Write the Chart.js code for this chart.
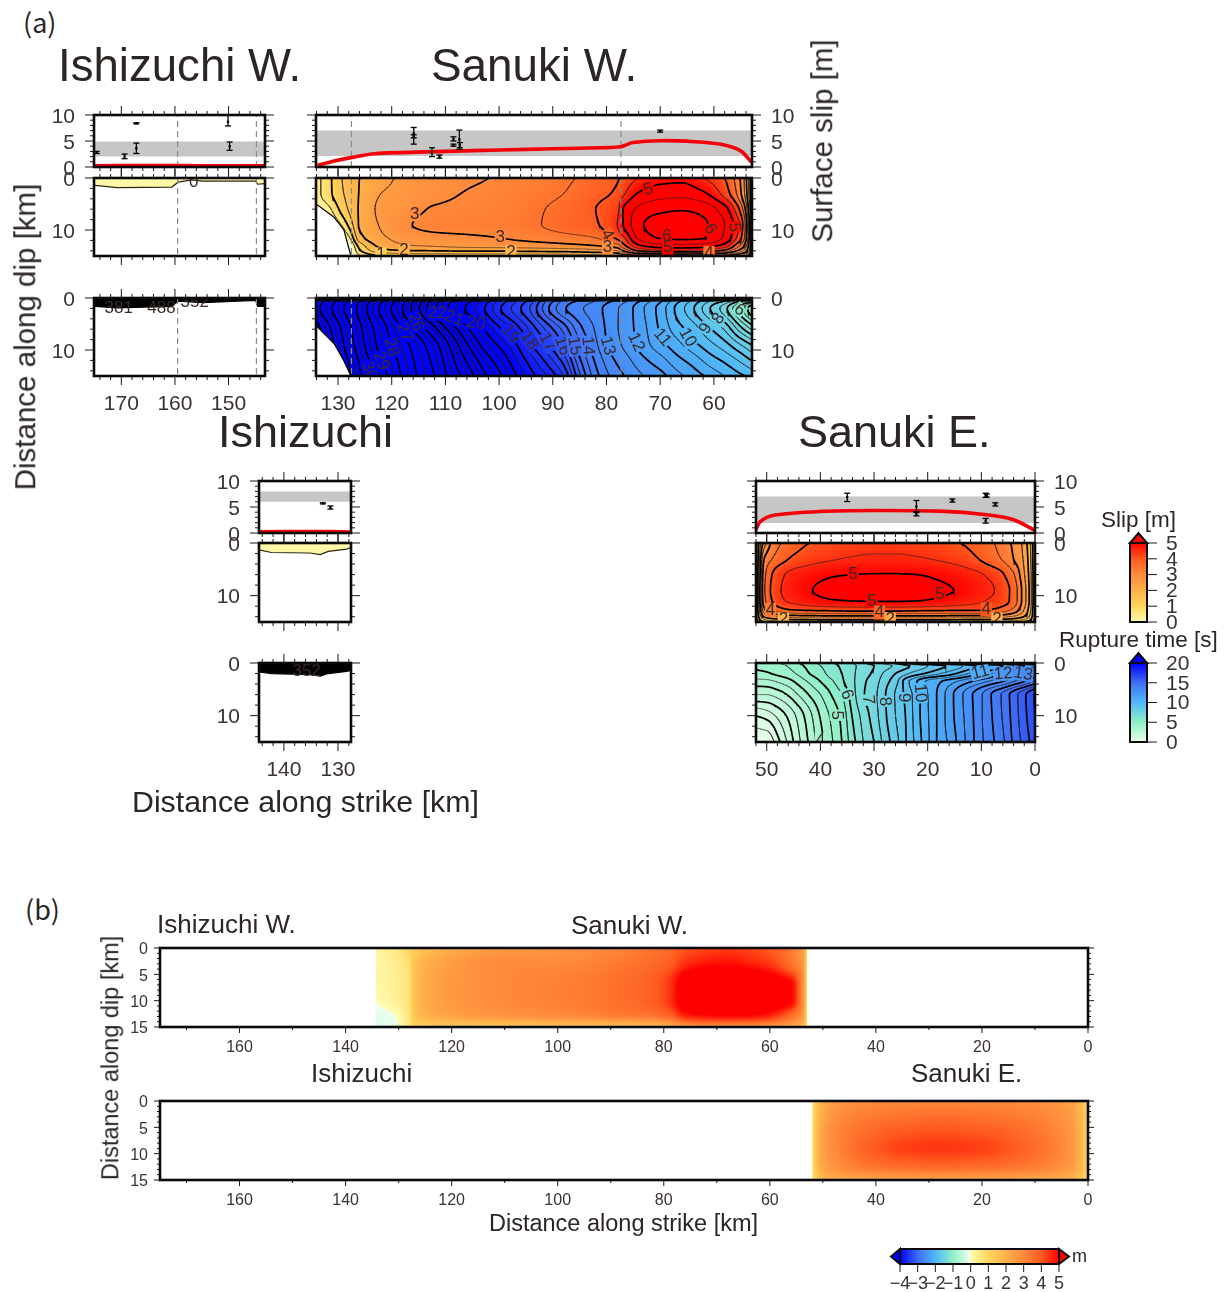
<!DOCTYPE html>
<html>
<head>
<meta charset="utf-8">
<title>Slip and rupture time</title>
<script src="https://cdn.jsdelivr.net/npm/chart.js@4"></script>
<style>
  html, body { margin: 0; background: #fff; }
  #page { position: relative; width: 1232px; height: 1292px; overflow: hidden; }
  canvas { position: absolute; }
  .t { position: absolute; white-space: nowrap; color: #2b2523; font-family: "Liberation Sans", sans-serif; line-height: 1; }
  .v { transform-origin: center; transform: translate(-50%, -50%) rotate(-90deg); }
  .m { transform: translate(-50%, -50%); }
</style>
</head>
<body>
<div id="page"></div>
<script>
// colour tables
const slipStops = [-4, -3, -2, -1, -0.03, 0, 1, 2, 3, 4, 5];
const slipColors = ['#0000ff', '#3c6cf8', '#50b8f8', '#90f0c8', '#eefff0', '#fffbb0', '#ffd65c', '#ffb04a', '#ff8a3c', '#ff5a1e', '#ff0000'];
const timeStops = [0, 5, 10, 15, 20];
const timeColors = ['#eaffe8', '#90f0c8', '#50b8f8', '#3f6ff5', '#0000ff'];

// tick labels
const ticksIshW = [170, 160, 150];
const ticksSanW = [130, 120, 110, 100, 90, 80, 70, 60];
const ticksIsh = [140, 130];
const ticksSanE = [50, 40, 30, 20, 10, 0];
const ticksSlip = [0, 5, 10];
const ticksDepth = [0, 10];
const ticksAll = [160, 140, 120, 100, 80, 60, 40, 20, 0];
const ticksDepthB = [0, 5, 10, 15];
const ticksSlipBar = [0, 1, 2, 3, 4, 5];
const ticksTimeBar = [0, 5, 10, 15, 20];
const ticksDiffBar = [-4, -3, -2, -1, 0, 1, 2, 3, 4, 5];

// Sanuki W. slip [m]
const slipWStrike = [134, 132, 130, 128, 126, 122, 118, 112, 106, 100, 94, 88, 82, 78, 76.9, 74, 70, 66, 62, 58, 56, 54.5, 53.5, 52.8];
const slipWDepth = [0, 3, 6, 9, 11.5, 13, 14, 15];
const slipW = [
  [.3, .8, 1.3, 1.8, 2, 2.3, 2.6, 2.8, 2.9, 3.05, 3.2, 3.4, 3.7, 3.95, 4.1, 4.5, 4.8, 4.85, 4.5, 4, 3.4, 2.6, 1.4, .2],
  [.3, .8, 1.25, 1.7, 2.02, 2.5, 2.65, 2.85, 3.03, 3.15, 3.3, 3.5, 3.85, 4.1, 4.4, 5.05, 5.3, 5.35, 5.1, 4.3, 3.6, 2.7, 1.5, .2],
  [0, .3, .95, 1.55, 2.05, 2.6, 2.75, 3.05, 3.12, 3.2, 3.4, 3.65, 4, 4.35, 5, 5.6, 5.85, 5.95, 5.8, 5.2, 4.4, 3.4, 1.9, .2],
  [-.3, -.2, .3, 1.1, 2.05, 2.55, 2.9, 3.15, 3.2, 3.25, 3.42, 3.7, 3.95, 4.5, 5, 5.85, 6.3, 6.4, 6.1, 5.5, 4.85, 3.9, 2.3, .2],
  [-.6, -.6, -.4, .4, 1.8, 2.4, 2.65, 2.82, 2.9, 3, 3.15, 3.3, 3.5, 4.1, 4.4, 5.6, 6.03, 6.1, 6.02, 5.4, 4.6, 3.7, 2.2, .2],
  [-.8, -.8, -.7, -.2, 1.2, 2.15, 2.45, 2.55, 2.65, 2.7, 2.75, 2.85, 3, 3.3, 3.8, 4.9, 5.3, 5.35, 5.25, 4.8, 3.9, 3.1, 1.9, .2],
  [-.9, -.9, -.8, -.4, .9, 1.8, 1.95, 2, 2.05, 2.05, 2.1, 2.15, 2.3, 2.5, 3, 4, 4.3, 4.4, 4.3, 3.8, 3.1, 2.5, 1.6, .2],
  [-1, -1, -.9, -.5, .4, .9, 1, 1.05, 1.05, 1.05, 1.1, 1.1, 1.2, 1.3, 1.5, 1.8, 2, 2, 2, 1.8, 1.5, 1.2, .8, .1]
];
const slipWMask = [[134.2, 5.2], [133.8, 5.2], [130.8, 7.5], [128.9, 10], [127.6, 15], [127.4, 15]];
const slipWLabels = [['3', 115.7, 7, 0], ['3', 99.8, 11.5, 0], ['2', 117.7, 14, 0], ['2', 97.8, 14.2, 0], ['1', 122, 14.7, 0],
  ['5', 72.2, 2.2, -15], ['6', 68.8, 11.3, 0], ['6', 60.7, 9.8, 60], ['5', 56.2, 9.5, 85], ['5', 68.6, 13.4, 0],
  ['4', 79.9, 10.9, 60], ['3', 79.8, 13.4, 0], ['4', 60.9, 14.4, 0]];

// Sanuki W. rupture time [s]
const timeWStrike = [134, 130, 127, 124, 121, 118, 115, 112, 109, 106, 103, 100, 97, 94, 91, 88, 85, 82, 79, 76, 73, 70, 67, 64, 61, 58, 55, 53];
const timeWDepth = [0, .6, 2, 5.5, 9, 12, 15];
const timeW = [
  [40, 39, 38, 37, 36, 35, 34, 33, 32, 31, 30, 29, 28, 27, 26, 25, 24, 24, 23, 23, 22, 22, 21, 21, 20, 18, 14, 10],
  [33.6, 31.8, 30.5, 29, 27.7, 26.3, 24.4, 22.4, 21.1, 20.2, 19.4, 18.4, 17.6, 16.7, 15.4, 14.4, 13.9, 13.5, 13, 12.5, 11.8, 11.1, 10.2, 9.4, 8.6, 8, 7, 6.5],
  [33.3, 31.5, 30.2, 28.7, 27.4, 26, 24.1, 22.1, 20.8, 19.9, 19.1, 18.1, 17.3, 16.4, 15.1, 14.1, 13.6, 13.2, 12.7, 12.2, 11.5, 10.8, 9.9, 9.1, 8.1, 7.2, 5.7, 4.6],
  [34.3, 32.2, 30.7, 29.2, 28, 26.8, 25.4, 24, 22.4, 21, 19.95, 19, 18.2, 17.2, 16.2, 15.2, 14.1, 13.4, 12.7, 12.2, 11.6, 10.9, 10.2, 9.7, 9, 8.3, 7, 6.2],
  [35, 32.6, 31, 29.5, 28.3, 27.4, 26.4, 25.3, 23.8, 22.1, 20.8, 19.9, 19.1, 18, 17.1, 16, 14.6, 13.6, 12.8, 12.3, 11.7, 11.2, 10.7, 10.2, 9.7, 9.2, 8.5, 8],
  [35.2, 33, 31.4, 29.9, 28.7, 27.7, 26.7, 25.7, 24.3, 22.9, 21.6, 20.6, 19.6, 18.7, 17.8, 16.8, 15.1, 13.9, 13.1, 12.6, 12.1, 11.7, 11.2, 10.8, 10.3, 9.9, 9.4, 9],
  [35.4, 33.3, 31.7, 30.2, 29.1, 27.9, 26.9, 26, 24.7, 23.6, 22.3, 21.2, 20.1, 19.2, 18.5, 17.5, 15.6, 14.2, 13.4, 12.9, 12.5, 12.2, 11.7, 11.3, 10.9, 10.5, 10.1, 9.9]
];
const timeWMask = [[134.2, 5.6], [133.8, 5.6], [130.7, 8.8], [128.9, 12.1], [127.6, 15], [127.4, 15]];
const timeWLabels = [['30', 124.2, 14, 70], ['29', 122, 12.1, 70], ['28', 120.1, 9.5, 75], ['27', 117.7, 6.6, 70], ['26', 115.5, 4.6, 70],
  ['22', 111.5, 3, 0], ['21', 108.4, 3.9, 20], ['20', 104.3, 4.9, 10], ['19', 97.8, 6.9, 50], ['18', 94.4, 8.2, 55], ['17', 91, 8.5, 60],
  ['16', 88.2, 9.2, 70], ['15', 86, 9.2, 80], ['14', 83.5, 9.2, 85], ['13', 79.8, 9.2, 75], ['12', 74.5, 8.5, 65], ['11', 69.6, 7.6, 50],
  ['10', 64.9, 7.6, 60], ['9', 61.5, 5.9, -60], ['8', 59.1, 4, -55], ['6', 55.2, 2.3, 40]];

// Sanuki E. slip [m]
const slipEStrike = [52, 51.5, 50.5, 49, 47, 45, 42, 38, 34, 30, 26, 22, 18, 14, 11, 8, 6, 4, 2.5, 1.2, .3, 0];
const slipEDepth = [0, 3, 6, 9, 11, 12.8, 14, 15];
const slipE = [
  [.2, 1, 2.2, 3.1, 3.55, 3.75, 4, 4.15, 4.25, 4.3, 4.3, 4.25, 4.15, 4, 3.8, 3.55, 3.25, 2.9, 2.5, 1.8, .8, .2],
  [.2, 1.2, 3, 3.5, 3.85, 4.1, 4.3, 4.45, 4.55, 4.6, 4.6, 4.55, 4.45, 4.3, 4.05, 3.7, 3.45, 3, 2.6, 1.9, .8, .2],
  [.2, 1.4, 3.3, 4, 4.45, 4.65, 4.8, 4.95, 5, 5.02, 5.02, 5, 4.9, 4.75, 4.6, 4.35, 4.05, 3.55, 2.8, 2, .9, .2],
  [.2, 1.5, 3.4, 4.1, 4.55, 4.75, 4.97, 5.15, 5.25, 5.3, 5.3, 5.25, 5.1, 4.95, 4.75, 4.55, 4.25, 3.8, 3, 2.1, .9, .2],
  [.2, 1.5, 3.3, 4, 4.45, 4.6, 4.8, 4.95, 5, 5.02, 5.02, 5, 4.9, 4.75, 4.6, 4.4, 4.2, 3.8, 3, 2.1, .9, .2],
  [.2, 1.3, 2.8, 3.4, 3.8, 3.95, 4, 4.05, 4.1, 4.1, 4.1, 4.05, 4.02, 4, 4, 3.9, 3.7, 3.3, 2.7, 1.9, .8, .2],
  [.2, 1, 2, 2.4, 2.6, 2.7, 2.75, 2.8, 2.8, 2.8, 2.8, 2.8, 2.8, 2.75, 2.75, 2.7, 2.6, 2.4, 2.1, 1.6, .7, .2],
  [.1, .6, 1, 1.2, 1.3, 1.35, 1.4, 1.4, 1.4, 1.4, 1.4, 1.4, 1.4, 1.4, 1.35, 1.3, 1.25, 1.2, 1, .8, .4, .1]
];
const slipELabels = [['5', 33.9, 6, 0], ['5', 30.4, 11, 0], ['5', 17.7, 9.7, 0], ['4', 49.3, 12.7, 0], ['4', 29, 13.2, 0], ['4', 9.1, 12.6, 0],
  ['2', 46.9, 14.5, 0], ['2', 27, 14.5, 0], ['2', 7.1, 14.5, 0]];

// Sanuki E. rupture time [s]
const timeEStrike = [52, 50, 48, 46, 44, 42, 40, 38, 36, 34, 32, 30, 28, 26, 24, 22, 20, 18, 16, 14, 12, 10, 8, 6, 4, 2, 0];
const timeEDepth = [0, .5, 2, 3.5, 6, 10, 15];
const timeE = [
  [4.3, 4.35, 4.5, 4.7, 5, 5.3, 5.6, 5.9, 6.2, 6.5, 6.9, 7.3, 7.7, 8.1, 8.9, 10, 10.4, 10.8, 11.2, 11.6, 12, 12.4, 12.8, 13.2, 13.6, 14, 14.5],
  [4.1, 4.15, 4.3, 4.55, 4.85, 5.2, 5.5, 5.8, 6.1, 6.4, 6.7, 7, 7.3, 7.6, 7.9, 8.2, 8.5, 8.8, 9.1, 9.4, 9.8, 10.2, 10.6, 11, 11.5, 12, 12.5],
  [3.9, 3.95, 4.1, 4.3, 4.6, 5, 5.3, 5.7, 6, 6.4, 6.8, 7.1, 7.6, 8, 8.4, 8.8, 9.1, 9.45, 9.75, 10.15, 10.6, 11.05, 11.5, 12, 12.5, 13, 13.5],
  [3.3, 3.35, 3.55, 3.8, 4.2, 4.6, 5, 5.4, 5.9, 6.4, 6.9, 7.25, 7.8, 8.3, 9.3, 10, 10.6, 10.9, 11.25, 11.6, 11.95, 12.3, 12.65, 13, 13.5, 14, 14.6],
  [2.5, 2.5, 2.7, 3.05, 3.55, 4.05, 4.5, 5, 5.5, 6.3, 6.95, 7.35, 7.95, 8.55, 9.15, 9.8, 10.5, 11.1, 11.75, 12.35, 12.9, 13.45, 14.05, 14.6, 15.25, 15.9, 16.6],
  [1, 1.2, 1.6, 2.1, 2.7, 3.35, 4.05, 4.6, 5.15, 6.05, 6.7, 7.25, 7.9, 8.5, 9.05, 9.8, 10.45, 11.1, 11.75, 12.3, 12.85, 13.45, 14, 14.55, 15.2, 15.85, 16.5],
  [0, 0, .8, 1.6, 2.4, 3.1, 3.8, 4.4, 5, 5.8, 6.5, 7, 7.7, 8.3, 9, 9.7, 10.4, 11.1, 11.6, 12.2, 12.8, 13.4, 13.9, 14.4, 15.1, 15.7, 16.3]
];
const timeELabels = [['5', 37, 9.9, 90], ['6', 35.1, 6, 70], ['7', 31.1, 7, 85], ['8', 28, 7.3, 85], ['9', 24.5, 6.6, 90], ['10', 21.4, 5.7, 85],
  ['11', 10.2, 1.8, -15], ['12', 5.9, 2.1, -5], ['13', 2.2, 2.1, 10], ['4', 40, 14.6, 0]];

// panel (b) slip [m]
const bWStrike = [134.2, 131, 128, 127.4, 125, 120, 110, 100, 90, 82, 79, 76, 72, 68, 64, 60, 56, 54, 53.2, 53];
const bWDepth = [0, 3, 7, 10, 12.5, 14.5, 15];
const bW = [
  [.2, .4, 1, 1.05, 1.5, 2, 2.5, 2.7, 3, 3.4, 3.6, 4, 4.2, 4.3, 4.2, 3.9, 3.3, 2.5, 1.5, .5],
  [.15, .35, .8, 1.3, 2, 2.5, 3, 3, 3.3, 3.7, 3.9, 4.5, 4.8, 4.9, 4.7, 4.4, 3.5, 2.8, 1.6, .5],
  [.1, .3, .7, 1.3, 2.1, 2.6, 3, 3.2, 3.5, 3.9, 4.4, 5.5, 6.2, 6.3, 6, 5.5, 5, 3.2, 1.6, .5],
  [0, .25, .7, 1.3, 2.1, 2.6, 3, 3.2, 3.5, 3.9, 4.4, 5.5, 6.3, 6.4, 6, 5.5, 5, 3.2, 1.6, .5],
  [-.12, -.02, .65, 1.2, 2, 2.4, 2.8, 3, 3.3, 3.6, 3.9, 4.8, 5.1, 5.2, 5.1, 4.8, 3.8, 2.8, 1.5, .5],
  [-.18, -.1, .6, 1, 1.3, 1.5, 1.6, 1.7, 1.8, 2, 2.3, 3, 3.3, 3.3, 3.3, 3, 2.5, 2, 1.2, .5],
  [-.18, -.1, .6, .8, 1, 1, 1, 1.1, 1.1, 1.2, 1.3, 1.6, 1.8, 1.8, 1.8, 1.6, 1.4, 1.1, .8, .4]
];
const bEStrike = [52.1, 51.5, 50, 47, 42, 35, 28, 20, 12, 6, 3, 1.5, .5, 0];
const bEDepth = [0, 3, 6, 9, 11, 13, 15];
const bE = [
  [.3, 1, 2, 2.6, 2.9, 3, 3, 3, 2.9, 2.6, 2.3, 1.8, 1.2, .8],
  [.3, 1.2, 2.2, 2.9, 3.3, 3.5, 3.6, 3.5, 3.3, 2.9, 2.5, 1.9, 1.3, .8],
  [.3, 1.3, 2.4, 3.1, 3.6, 4, 4.1, 4, 3.6, 3.1, 2.6, 2, 1.3, .8],
  [.3, 1.3, 2.4, 3.1, 3.8, 4.3, 4.4, 4.3, 3.8, 3.2, 2.6, 2, 1.3, .8],
  [.3, 1.3, 2.4, 3, 3.6, 4, 4.1, 4, 3.6, 3.1, 2.6, 2, 1.3, .8],
  [.3, 1.2, 2.2, 2.8, 3.2, 3.4, 3.5, 3.4, 3.2, 2.8, 2.4, 1.9, 1.2, .8],
  [.3, 1, 1.6, 1.9, 2.1, 2.2, 2.2, 2.2, 2.1, 1.9, 1.7, 1.4, 1, .7]
];

// shallow slip and rupture patches of the two Ishizuchi segments
const edgeIshW = [[175.1, 1.4], [174.9, 1.4], [170.8, 1.85], [160.6, 1.75], [159.4, .8], [156.9, .35], [154.8, .6], [144.9, .6], [144.6, 1.2], [143.2, 1.1]];
const bandIshW = [[175.1, 1.6], [174.9, 1.6], [170.8, 1.9], [160.6, 1.6], [159.4, .6], [154.8, .9], [144.9, .45], [144.6, 1.6], [143.2, 1.6]];
const edgeIsh = [[144.6, 1.3], [142.3, 1.8], [135.2, 1.9], [133.3, 2.2], [131.8, 1.6], [128.4, 1.15], [127.6, .85]];
const bandIsh = [[144.6, 1.7], [142.3, 2], [135.2, 2.2], [133.3, 2.5], [131.8, 2], [128.4, 1.6], [127.6, 1.4]];

// surface slip: [strike, value, low, high]
const obsIshW = [[174.6, 2.8, 2.6, 3], [169.4, 2, 1.6, 2.5], [167.2, 8.4, 8.3, 8.5], [167.2, 3.6, 2.6, 4.6], [150.1, 8.7, 7.9, 10], [149.8, 4, 3.2, 4.8]];
const obsSanW = [[115.9, 6.5, 4.4, 7.6], [115.9, 5.9, 5.6, 6.2], [112.5, 2.75, 2, 3.7], [111.1, 2, 1.7, 2.3], [108.5, 5.4, 5, 5.8], [108.5, 4.2, 4, 4.4], [107.4, 5.3, 3.4, 7.1], [107.3, 4.2, 3.7, 4.7], [70, 6.9, 6.7, 7.1]];
const obsIsh = [[132.8, 5.7, 5.6, 5.8], [131.4, 4.9, 4.6, 5.2]];
const obsSanE = [[35, 6.9, 6.05, 7.65], [22.1, 5.1, 3.95, 6.25], [22.1, 3.7, 3.3, 4.1], [15.4, 6.25, 5.95, 6.55], [9.2, 7.25, 6.85, 7.65], [9, 7.2, 6.9, 7.5], [7.4, 5.5, 5.2, 5.8], [9.2, 2.35, 1.9, 2.8]];

// modelled surface slip (red line): [strike, slip]
const redIshW = [[175.1, .25], [165, .3], [155, .25], [143.2, .25]];
const redSanW = [[133.8, .3], [130.7, 1.15], [127.6, 1.8], [123.2, 2.56], [110, 3], [99.7, 3.27], [90, 3.5], [81, 3.7], [77.3, 3.9], [75.1, 4.7], [69.8, 5.06], [63.6, 4.87], [58.7, 4.36], [55, 3.1], [52.9, .8]];
const redIsh = [[144.6, .25], [135, .3], [127.6, .2]];
const redSanE = [[52, .65], [51.2, 2.2], [48.7, 3.4], [40, 4.15], [30.1, 4.33], [17.7, 4.2], [9, 3.5], [4, 2.55], [0, .5]];

// segment boundaries (dashed)
const faultsIshW = [159.5, 144.8];
const faultsSanW = [127.5, 77.3];

// ---------- helpers ----------
const FONT = '"Liberation Sans", sans-serif';
const TICKCOL = '#3a3331';
const page = document.getElementById('page');

function text(str, x, y, size, cls, family) {
  const d = document.createElement('div');
  d.className = 't ' + (cls || '');
  d.textContent = str;
  d.style.left = x + 'px';
  d.style.top = y + 'px';
  d.style.fontSize = size + 'px';
  if (!cls) d.style.transform = 'translateY(-50%)';
  if (family) d.style.fontFamily = family;
  page.appendChild(d);
}

function hexRgb(h) { return [1, 3, 5].map(i => parseInt(h.substr(i, 2), 16)); }
function colormap(stops, colors) {
  const rgb = colors.map(hexRgb);
  return v => {
    if (v <= stops[0]) return rgb[0];
    for (let i = 0; i < stops.length - 1; i++) {
      if (v <= stops[i + 1]) {
        const t = (v - stops[i]) / (stops[i + 1] - stops[i]);
        return rgb[i].map((c, k) => c + (rgb[i + 1][k] - c) * t);
      }
    }
    return rgb[rgb.length - 1];
  };
}
const slipMap = colormap(slipStops, slipColors);
const timeMap = colormap(timeStops, timeColors);

function seg(xs, x) {
  for (let i = 0; i < xs.length - 1; i++) {
    if ((x - xs[i]) * (x - xs[i + 1]) <= 0) return i;
  }
  return -1;
}
// monotone cubic between table nodes
function interp(xs, vs, i, x) {
  const h = xs[i + 1] - xs[i], d = (vs[i + 1] - vs[i]) / h, t = (x - xs[i]) / h;
  const slope = k => {
    if (k <= 0 || k >= xs.length - 1) return d;
    const a = (vs[k] - vs[k - 1]) / (xs[k] - xs[k - 1]), b = (vs[k + 1] - vs[k]) / (xs[k + 1] - xs[k]);
    return a * b <= 0 ? 0 : 2 * a * b / (a + b);
  };
  const m0 = slope(i) * h, m1 = slope(i + 1) * h, t2 = t * t, t3 = t2 * t;
  return (2 * t3 - 3 * t2 + 1) * vs[i] + (t3 - 2 * t2 + t) * m0 + (-2 * t3 + 3 * t2) * vs[i + 1] + (t3 - t2) * m1;
}
function sample(f, x, y) {
  const i = seg(f.xs, x), j = seg(f.ys, y);
  if (i < 0 || j < 0) return NaN;
  return interp(f.ys, f.m.map(r => interp(f.xs, r, i, x)), j, y);
}

// contour lines as chart datasets, gaps are NaN points
function contours(f, levels, nx, ny) {
  const x0 = f.xs[0], x1 = f.xs[f.xs.length - 1], y0 = f.ys[0], y1 = f.ys[f.ys.length - 1];
  const gx = [], gy = [], grid = [];
  for (let i = 0; i <= nx; i++) gx.push(x0 + (x1 - x0) * i / nx);
  for (let j = 0; j <= ny; j++) gy.push(y0 + (y1 - y0) * j / ny);
  gy.forEach(y => grid.push(gx.map(x => sample(f, x, y))));
  return levels.map(lv => {
    const data = [];
    for (let j = 0; j < ny; j++) for (let i = 0; i < nx; i++) {
      const a = grid[j][i], b = grid[j][i + 1], c = grid[j + 1][i + 1], d = grid[j + 1][i];
      const pts = [];
      if ((a - lv) * (b - lv) < 0) pts.push({ x: gx[i] + (gx[i + 1] - gx[i]) * (lv - a) / (b - a), y: gy[j] });
      if ((b - lv) * (c - lv) < 0) pts.push({ x: gx[i + 1], y: gy[j] + (gy[j + 1] - gy[j]) * (lv - b) / (c - b) });
      if ((d - lv) * (c - lv) < 0) pts.push({ x: gx[i] + (gx[i + 1] - gx[i]) * (lv - d) / (c - d), y: gy[j + 1] });
      if ((a - lv) * (d - lv) < 0) pts.push({ x: gx[i], y: gy[j] + (gy[j + 1] - gy[j]) * (lv - a) / (d - a) });
      for (let k = 0; k + 1 < pts.length; k += 2) data.push(pts[k], pts[k + 1], { x: NaN, y: NaN });
    }
    const major = Number.isInteger(lv);
    return { type: 'line', data, order: 5, pointRadius: 0, borderCapStyle: 'round', spanGaps: false,
      borderColor: major ? '#000' : 'rgba(40,30,30,.55)', borderWidth: major ? 1.7 : .8 };
  });
}

function levels(a, b) {
  const out = [];
  for (let v = a; v <= b; v += .5) out.push(v);
  return out;
}
const pairs = a => a.map(p => ({ x: p[0], y: p[1] }));

const polyFill = (pts, color, edge, value, order) => ({ type: 'line', data: pairs(pts), order, pointRadius: 0, backgroundColor: color,
  borderColor: edge, borderWidth: 1.2, fill: { value } });
const faultLines = (list, y0, y1) => list.map(s => ({ type: 'line', data: [{ x: s, y: y0 }, { x: s, y: y1 }], order: 2, pointRadius: 0,
  borderColor: '#8a8a8a', borderWidth: 1.2, borderDash: [6, 4] }));

function slipSets(obs, red, lo, hi, range, faults) {
  const bars = [], caps = [];
  obs.forEach(o => {
    bars.push({ x: o[0], y: o[2] }, { x: o[0], y: o[3] }, { x: NaN, y: NaN });
    caps.push({ x: o[0], y: o[2] }, { x: o[0], y: o[3] });
  });
  return [
    { type: 'line', data: [{ x: range[0], y: hi }, { x: range[1], y: hi }], order: 9, pointRadius: 0, borderWidth: 0, backgroundColor: '#c6c6c6', fill: { value: lo } },
    ...faultLines(faults, 0, 10),
    { type: 'line', data: pairs(red), order: 1, pointRadius: 0, borderColor: '#f5000a', borderWidth: 3.6, tension: .3, clip: false },
    { type: 'line', data: bars, order: 0, pointRadius: 0, borderColor: '#000', borderWidth: 1.3, spanGaps: false },
    { type: 'scatter', data: caps, order: 0, pointStyle: 'line', pointRadius: 3, borderColor: '#000', borderWidth: 1.3 },
    { type: 'scatter', data: pairs(obs), order: 0, pointStyle: 'rect', pointRadius: 1.6, backgroundColor: '#000', borderColor: '#000', borderWidth: 0 }
  ];
}

// heat field, contour labels, frame and tick marks, all from the chart's scales
function panelPlugin(c) {
  return {
    id: 'panel',
    beforeDraw(chart) {
      // digits of the y axis sit a little low in the original
      const dy = c.yShift === undefined ? 2 : c.yShift;
      chart.scales.y.getLabelItems().forEach(it => {
        if (!it.shifted) { it.options.translation[1] += dy; it.shifted = true; }
      });
    },
    beforeDatasetsDraw(chart) {
      if (!c.heat) return;
      const { left, top, width, height } = chart.chartArea;
      const w = Math.round(width), h = Math.round(height);
      const img = chart.ctx.createImageData(w, h), sx = chart.scales.x, sy = chart.scales.y;
      for (let py = 0; py < h; py++) {
        const y = sy.getValueForPixel(top + py + .5);
        for (let px = 0; px < w; px++) {
          const v = sample(c.heat, sx.getValueForPixel(left + px + .5), y);
          if (isNaN(v)) continue;
          const col = c.map(v), k = (py * w + px) * 4;
          img.data[k] = col[0]; img.data[k + 1] = col[1]; img.data[k + 2] = col[2]; img.data[k + 3] = 255;
        }
      }
      chart.ctx.putImageData(img, Math.round(left), Math.round(top));
    },
    afterDatasetsDraw(chart) {
      if (!c.labels) return;
      const ctx = chart.ctx, a = chart.chartArea;
      ctx.save();
      ctx.beginPath();
      ctx.rect(a.left, a.top, a.right - a.left, a.bottom - a.top);
      ctx.clip();
      ctx.font = (c.labelSize || 17) + 'px ' + FONT;
      ctx.textAlign = 'center';
      ctx.textBaseline = 'middle';
      c.labels.forEach(l => {
        ctx.save();
        ctx.translate(chart.scales.x.getPixelForValue(l[1]), chart.scales.y.getPixelForValue(l[2]));
        ctx.rotate((l[3] || 0) * Math.PI / 180);
        if (c.heat) {
          const v = sample(c.heat, l[1], l[2]);
          if (!isNaN(v)) {
            const col = c.map(v);
            ctx.fillStyle = `rgb(${col[0]},${col[1]},${col[2]})`;
            const tw = ctx.measureText(l[0]).width;
            ctx.fillRect(-tw / 2 - 1, -7, tw + 2, 14);
          }
        }
        ctx.fillStyle = '#3a2a28';
        ctx.fillText(l[0], 0, 0);
        ctx.restore();
      });
      ctx.restore();
    },
    afterDraw(chart) {
      const ctx = chart.ctx, a = chart.chartArea, sx = chart.scales.x, sy = chart.scales.y;
      const sides = c.sides || 'tblr', L = c.tickLen || [9, 4];
      ctx.save();
      ctx.strokeStyle = '#1c1716';
      ctx.lineWidth = 1;
      const mark = (x0, y0, x1, y1) => { ctx.beginPath(); ctx.moveTo(x0, y0); ctx.lineTo(x1, y1); ctx.stroke(); };
      const run = (s, step, major, fn) => {
        const lo = Math.min(s.min, s.max), hi = Math.max(s.min, s.max);
        for (let v = Math.ceil(lo / step - 1e-6) * step; v <= hi + 1e-6; v += step) {
          const isMajor = Math.abs(v / major - Math.round(v / major)) < 1e-6;
          fn(s.getPixelForValue(v), isMajor ? L[0] : L[1]);
        }
      };
      if (c.xStep) run(sx, c.xStep, c.xMajor, (p, n) => {
        if (sides.includes('t')) mark(p, a.top, p, a.top - n);
        if (sides.includes('b')) mark(p, a.bottom, p, a.bottom + n);
      });
      if (c.yStep) run(sy, c.yStep, c.yMajor, (p, n) => {
        if (sides.includes('l')) mark(a.left, p, a.left - n, p);
        if (sides.includes('r')) mark(a.right, p, a.right + n, p);
      });
      ctx.lineWidth = c.frame || 2.6;
      ctx.strokeStyle = '#0a0a0a';
      if (c.arrows) {
        ctx.lineWidth = 2;
        c.arrows.forEach(ar => {
          ctx.beginPath();
          if (ar.dir === 'up') {
            ctx.moveTo(a.left, a.top); ctx.lineTo((a.left + a.right) / 2, a.top - 10); ctx.lineTo(a.right, a.top);
          } else if (ar.dir === 'left') {
            ctx.moveTo(a.left, a.top); ctx.lineTo(a.left - 9, (a.top + a.bottom) / 2); ctx.lineTo(a.left, a.bottom);
          } else {
            ctx.moveTo(a.right, a.top); ctx.lineTo(a.right + 10, (a.top + a.bottom) / 2); ctx.lineTo(a.right, a.bottom);
          }
          ctx.closePath();
          ctx.fillStyle = ar.color;
          ctx.fill();
          ctx.stroke();
        });
        ctx.lineWidth = c.frame || 2.6;
      }
      ctx.strokeRect(a.left, a.top, a.right - a.left, a.bottom - a.top);
      ctx.restore();
    }
  };
}

function panel(c) {
  const M = { l: 70, r: 70, t: 30, b: 44 };
  const [l, t, r, b] = c.box;
  const cv = document.createElement('canvas');
  cv.width = r - l + M.l + M.r;
  cv.height = b - t + M.t + M.b;
  cv.style.left = (l - M.l) + 'px';
  cv.style.top = (t - M.t) + 'px';
  page.appendChild(cv);
  const fs = c.fontSize || 21;
  const right = c.ySide === 'right';
  new Chart(cv, {
    data: { datasets: c.datasets || [] },
    plugins: [panelPlugin(c)],
    options: {
      responsive: false,
      animation: false,
      events: [],
      layout: { padding: { top: M.t, left: right ? M.l : 0, right: right ? 0 : M.r, bottom: 0 } },
      plugins: { legend: { display: false }, tooltip: { enabled: false } },
      scales: {
        x: {
          type: 'linear', position: 'bottom', min: c.x[0], max: c.x[1], reverse: c.xReverse !== false,
          grid: { display: false, drawTicks: false }, border: { display: false },
          afterBuildTicks: s => { s.ticks = (c.xTicks || []).map(v => ({ value: v })); },
          afterFit: s => { s.height = M.b; s.paddingLeft = 0; s.paddingRight = 0; },
          ticks: { display: !!c.xLabels, autoSkip: false, maxRotation: 0, color: TICKCOL, padding: c.xPad === undefined ? 16 : c.xPad,
            font: { family: FONT, size: c.xFont || fs }, callback: v => String(v).replace('-', '−') }
        },
        y: {
          type: 'linear', position: right ? 'right' : 'left', min: c.y[0], max: c.y[1], reverse: !!c.yReverse,
          grid: { display: false, drawTicks: false }, border: { display: false },
          afterBuildTicks: s => { s.ticks = (c.yTicks || []).map(v => ({ value: v })); },
          afterFit: s => { s.width = right ? M.r : M.l; s.paddingTop = 0; s.paddingBottom = 0; },
          ticks: { display: !!c.yLabels, autoSkip: false, color: TICKCOL, padding: c.yPad === undefined ? 19 : c.yPad,
            font: { family: FONT, size: fs }, callback: v => String(v) }
        }
      }
    }
  });
}

// ---------- panel (a) ----------
const fieldSlipW = { xs: slipWStrike, ys: slipWDepth, m: slipW };
const fieldTimeW = { xs: timeWStrike, ys: timeWDepth, m: timeW };
const fieldSlipE = { xs: slipEStrike, ys: slipEDepth, m: slipE };
const fieldTimeE = { xs: timeEStrike, ys: timeEDepth, m: timeE };
const AX = { xStep: 2, xMajor: 10 };
const SL = { y: [0, 10], yTicks: ticksSlip, yStep: 1, yMajor: 5 };
const DP = { y: [0, 15], yReverse: true, yTicks: ticksDepth, yStep: 2, yMajor: 10 };

const rowsA = [115, 167, 178, 256, 298, 376];
const rowsB = [481, 533, 543, 622, 663, 742];

// Ishizuchi W.
const xIW = [175.1, 143.2];
panel({ ...AX, ...SL, box: [94, rowsA[0], 265, rowsA[1]], x: xIW, yLabels: true, datasets: slipSets(obsIshW, redIshW, 2, 4.9, xIW, faultsIshW) });
panel({ ...AX, ...DP, box: [94, rowsA[2], 265, rowsA[3]], x: xIW, yLabels: true, labels: [['0', 156.5, .8, 0]],
  datasets: [polyFill(edgeIshW, '#fff8a8', '#2a2a10', 0, 6), ...faultLines(faultsIshW, 0, 15)] });
panel({ ...AX, ...DP, box: [94, rowsA[4], 265, rowsA[5]], x: xIW, xTicks: ticksIshW, xLabels: true, yLabels: true,
  labels: [['381', 170.5, 1.9, 0], ['488', 162.5, 1.9, 0], ['352', 156.3, .9, 0]],
  datasets: [polyFill(bandIshW, '#000', '#000', 0, 6), ...faultLines(faultsIshW, 0, 15)] });

// Sanuki W.
const xSW = [134.1, 52.9];
panel({ ...AX, ...SL, box: [316, rowsA[0], 752, rowsA[1]], x: xSW, ySide: 'right', yLabels: true, datasets: slipSets(obsSanW, redSanW, 2.1, 7, xSW, faultsSanW) });
panel({ ...AX, ...DP, box: [316, rowsA[2], 752, rowsA[3]], x: xSW, ySide: 'right', yLabels: true, heat: fieldSlipW, map: slipMap, labels: slipWLabels,
  datasets: [...contours(fieldSlipW, levels(.5, 6), 290, 104), polyFill(slipWMask, '#fff', '#000', 15, -1), ...faultLines(faultsSanW, 0, 15)] });
panel({ ...AX, ...DP, box: [316, rowsA[4], 752, rowsA[5]], x: xSW, xTicks: ticksSanW, xLabels: true, ySide: 'right', yLabels: true, heat: fieldTimeW, map: timeMap, labels: timeWLabels,
  datasets: [...contours(fieldTimeW, levels(4, 36), 290, 156), polyFill(timeWMask, '#fff', '#000', 15, -1), ...faultLines(faultsSanW, 0, 15)] });

// Ishizuchi
const xI = [144.6, 127.6];
panel({ ...AX, ...SL, box: [259, rowsB[0], 351, rowsB[1]], x: xI, yLabels: true, datasets: slipSets(obsIsh, redIsh, 6, 8, xI, []) });
panel({ ...AX, ...DP, box: [259, rowsB[2], 351, rowsB[3]], x: xI, yLabels: true, datasets: [polyFill(edgeIsh, '#fff8a8', '#2a2a10', 0, 6)] });
panel({ ...AX, ...DP, box: [259, rowsB[4], 351, rowsB[5]], x: xI, xTicks: ticksIsh, xLabels: true, yLabels: true, labels: [['352', 135.8, 1.6, 0]],
  datasets: [polyFill(bandIsh, '#000', '#000', 0, 6)] });

// Sanuki E.
const xSE = [52, 0];
panel({ ...AX, ...SL, box: [756, rowsB[0], 1035, rowsB[1]], x: xSE, ySide: 'right', yLabels: true, datasets: slipSets(obsSanE, redSanE, 1.9, 7, xSE, []) });
panel({ ...AX, ...DP, box: [756, rowsB[2], 1035, rowsB[3]], x: xSE, ySide: 'right', yLabels: true, heat: fieldSlipE, map: slipMap, labels: slipELabels,
  datasets: contours(fieldSlipE, levels(.5, 5), 190, 104) });
panel({ ...AX, ...DP, box: [756, rowsB[4], 1035, rowsB[5]], x: xSE, xTicks: ticksSanE, xLabels: true, ySide: 'right', yLabels: true, heat: fieldTimeE, map: timeMap, labels: timeELabels,
  datasets: contours(fieldTimeE, levels(.5, 17), 190, 156) });

// colour bars
panel({ box: [1130, 543, 1147, 622], x: [0, 1], xReverse: false, y: [0, 5], yTicks: ticksSlipBar, yStep: 1, yMajor: 1, ySide: 'right', yLabels: true, yShift: 1,
  sides: 'r', tickLen: [10, 10], frame: 2, heat: { xs: [0, 1], ys: ticksSlipBar, m: ticksSlipBar.map(v => [v, v]) }, map: slipMap, arrows: [{ dir: 'up', color: '#ff0000' }] });
panel({ box: [1130, 663, 1147, 742], x: [0, 1], xReverse: false, y: [0, 20], yTicks: ticksTimeBar, yStep: 5, yMajor: 5, ySide: 'right', yLabels: true, yShift: 1,
  sides: 'r', tickLen: [10, 10], frame: 2, heat: { xs: [0, 1], ys: ticksTimeBar, m: ticksTimeBar.map(v => [v, v]) }, map: timeMap, arrows: [{ dir: 'up', color: '#0000ff' }] });

// ---------- panel (b) ----------
const BT = { xStep: 10, xMajor: 20, yStep: 1, yMajor: 5, y: [0, 15], yReverse: true, x: [175, 0], yTicks: ticksDepthB, xTicks: ticksAll, xLabels: true, yLabels: true,
  fontSize: 16, yPad: 12, xPad: 11, sides: 'blr', tickLen: [6, 3], map: slipMap };
panel({ ...BT, box: [160, 948, 1088, 1027], heat: { xs: bWStrike, ys: bWDepth, m: bW } });
panel({ ...BT, box: [160, 1101, 1088, 1180], heat: { xs: bEStrike, ys: bEDepth, m: bE } });
panel({ box: [900, 1249, 1059, 1264], x: [-4, 5], xReverse: false, y: [0, 1], xTicks: ticksDiffBar, xLabels: true, xStep: 1, xMajor: 1, xFont: 18, xPad: 9,
  sides: 'b', tickLen: [8, 8], frame: 2, heat: { xs: slipStops, ys: [0, 1], m: [slipStops, slipStops] }, map: slipMap,
  arrows: [{ dir: 'left', color: '#0000ff' }, { dir: 'right', color: '#ff0000' }] });

// ---------- text ----------
const JP = '"Noto Sans CJK JP", sans-serif';
text('(a)', 23, 21, 27, '', JP);
text('(b)', 25, 908, 27, '', JP);
text('Ishizuchi W.', 58, 66, 45.6);
text('Sanuki W.', 431, 66, 45.8);
text('Ishizuchi', 218, 431, 45);
text('Sanuki E.', 798, 431, 45);
text('Distance along dip [km]', 25, 337, 29.5, 'v');
text('Surface slip [m]', 822, 141, 29.5, 'v');
text('Distance along strike [km]', 132, 802, 30.3);
text('Slip [m]', 1101, 520, 22.5);
text('Rupture time [s]', 1059, 640, 22.5);
text('Ishizuchi W.', 157, 924, 26);
text('Sanuki W.', 571, 925, 26);
text('Ishizuchi', 311, 1073, 26);
text('Sanuki E.', 911, 1073, 26);
text('Distance along dip [km]', 111, 1058, 23.5, 'v');
text('Distance along strike [km]', 489, 1224, 23.5);
text('m', 1072, 1256, 18);
</script>
</body>
</html>
